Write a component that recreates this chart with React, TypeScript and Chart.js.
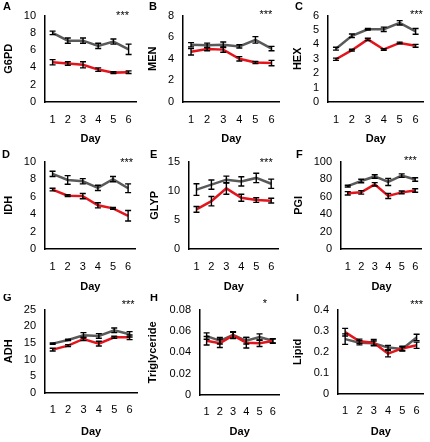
import React, { useEffect, useRef } from "react";
import { Chart, registerables } from "chart.js";

Chart.register(...registerables);

const days = ["1", "2", "3", "4", "5", "6"];

// A  G6PD
const g6pdGrey = [8.0, 7.1, 7.1, 6.5, 7.0, 6.1];
const g6pdGreyErr = [0.2, 0.3, 0.3, 0.3, 0.3, 0.6];
const g6pdRed = [4.6, 4.45, 4.3, 3.75, 3.4, 3.45];
const g6pdRedErr = [0.3, 0.2, 0.35, 0.2, 0.1, 0.15];

// B  MEN
const menGrey = [5.3, 5.25, 5.3, 5.15, 5.75, 4.95];
const menGreyErr = [0.2, 0.2, 0.25, 0.15, 0.3, 0.2];
const menRed = [4.65, 4.9, 4.85, 4.0, 3.65, 3.6];
const menRedErr = [0.3, 0.15, 0.25, 0.2, 0.1, 0.25];

// C  HEX
const hexGrey = [3.7, 4.6, 5.05, 5.05, 5.5, 4.9];
const hexGreyErr = [0.1, 0.12, 0.05, 0.15, 0.15, 0.2];
const hexRed = [2.97, 3.6, 4.35, 3.65, 4.1, 3.9];
const hexRedErr = [0.08, 0.06, 0.08, 0.06, 0.06, 0.1];

// D  IDH
const idhGrey = [8.6, 7.9, 7.75, 7.0, 8.0, 6.95];
const idhGreyErr = [0.3, 0.5, 0.3, 0.3, 0.3, 0.5];
const idhRed = [6.8, 6.1, 6.05, 5.0, 4.65, 3.8];
const idhRedErr = [0.15, 0.1, 0.3, 0.3, 0.1, 0.6];

// E  GLYP
const glypGrey = [10.2, 11.05, 11.9, 11.6, 12.2, 11.2];
const glypGreyErr = [1.0, 0.8, 0.6, 0.8, 0.8, 0.8];
const glypRed = [6.8, 8.2, 10.4, 8.8, 8.4, 8.3];
const glypRedErr = [0.5, 0.8, 1.0, 0.6, 0.4, 0.4];

// F  PGI
const pgiGrey = [72, 77.8, 83, 76.7, 84, 79.6];
const pgiGreyErr = [1, 2, 2, 4, 2, 2];
const pgiRed = [63.7, 64.8, 74, 60.7, 64.8, 67];
const pgiRedErr = [2, 2, 2, 3, 1.5, 2];

// G  ADH
const adhGrey = [14.8, 15.9, 17.3, 17.1, 18.8, 17.6];
const adhGreyErr = [0.2, 0.2, 0.8, 0.7, 0.7, 0.8];
const adhRed = [13.0, 14.2, 16.2, 14.8, 16.7, 16.7];
const adhRedErr = [0.4, 0.3, 0.5, 0.7, 0.3, 0.7];

// H  Triglyceride
const trigGrey = [0.0552, 0.0508, 0.0563, 0.0508, 0.0543, 0.0508];
const trigGreyErr = [0.003, 0.003, 0.003, 0.003, 0.003, 0.002];
const trigRed = [0.0508, 0.0485, 0.0558, 0.049, 0.0485, 0.0505];
const trigRedErr = [0.004, 0.004, 0.003, 0.005, 0.003, 0.002];

// I  Lipid
const lipidGrey = [0.26, 0.243, 0.241, 0.22, 0.213, 0.268];
const lipidGreyErr = [0.025, 0.01, 0.01, 0.01, 0.01, 0.015];
const lipidRed = [0.293, 0.25, 0.243, 0.191, 0.216, 0.231];
const lipidRedErr = [0.018, 0.01, 0.015, 0.015, 0.01, 0.015];

const panelLetters = ["A", "B", "C", "D", "E", "F", "G", "H", "I"];
const panelLabels = ["G6PD", "MEN", "HEX", "IDH", "GLYP", "PGI", "ADH", "Triglyceride", "Lipid"];
const panelMax = [10, 8, 6, 10, 15, 100, 25, 0.08, 0.4];
const panelStep = [2, 2, 1, 2, 5, 20, 5, 0.02, 0.1];
const panelStars = ["***", "***", "***", "***", "***", "***", "***", "*", "***"];
const greySeries = [g6pdGrey, menGrey, hexGrey, idhGrey, glypGrey, pgiGrey, adhGrey, trigGrey, lipidGrey];
const greyErrors = [g6pdGreyErr, menGreyErr, hexGreyErr, idhGreyErr, glypGreyErr, pgiGreyErr, adhGreyErr, trigGreyErr, lipidGreyErr];
const redSeries = [g6pdRed, menRed, hexRed, idhRed, glypRed, pgiRed, adhRed, trigRed, lipidRed];
const redErrors = [g6pdRedErr, menRedErr, hexRedErr, idhRedErr, glypRedErr, pgiRedErr, adhRedErr, trigRedErr, lipidRedErr];

// Layout (absolute page coordinates): canvas rect, plot rect, letter pos, stars pos, titles
const frames = [
  { cx: 0, cy: 0, cw: 143, ch: 146, l: 45, t: 13, r: 139, b: 102, lx: 3, ly: 7, sx: 4.6, sy: 13, yt: 9, xt: 138.5, tp: 11 },
  { cx: 142, cy: 0, cw: 144, ch: 146, l: 183, t: 13, r: 281, b: 102, lx: 149, ly: 7, sx: 4.65, sy: 12, yt: 153, xt: 138.5, tp: 11 },
  { cx: 286, cy: 0, cw: 144, ch: 146, l: 328, t: 13, r: 426, b: 102, lx: 295, ly: 7, sx: 5.05, sy: 12, yt: 298, xt: 138.5, tp: 11 },
  { cx: 0, cy: 146, cw: 143, ch: 148, l: 45, t: 158, r: 139, b: 249, lx: 2, ly: 154.5, sx: 4.9, sy: 160, yt: 9, xt: 287, tp: 11.5 },
  { cx: 142, cy: 146, cw: 144, ch: 148, l: 189, t: 159, r: 283, b: 249, lx: 150, ly: 154.5, sx: 4.67, sy: 160, yt: 155, xt: 287, tp: 11.5 },
  { cx: 286, cy: 146, cw: 144, ch: 148, l: 341, t: 159, r: 427, b: 249, lx: 296, ly: 154.5, sx: 4.65, sy: 158, yt: 299, xt: 287, tp: 11.5 },
  { cx: 0, cy: 294, cw: 143, ch: 148, l: 45, t: 303, r: 139, b: 393, lx: 3, ly: 297.5, sx: 4.9, sy: 302, yt: 9, xt: 432, tp: 10 },
  { cx: 142, cy: 294, cw: 144, ch: 148, l: 200, t: 304, r: 284, b: 395, lx: 150, ly: 297.5, sx: 4.4, sy: 301, yt: 153, xt: 432, tp: 10 },
  { cx: 286, cy: 294, cw: 144, ch: 148, l: 338, t: 303, r: 426, b: 394, lx: 296, ly: 297.5, sx: 5.0, sy: 302, yt: 298, xt: 432, tp: 10 },
];

const FONT = "'Liberation Sans', Arial, Helvetica, sans-serif";
const GREY = "#5a5a5a";
const RED = "#e3141b";
const INK = "#000000";

const decorPlugin = {
  id: "decor",
  afterDatasetsDraw(chart: any) {
    const ctx = chart.ctx;
    const xs = chart.scales.x;
    const ys = chart.scales.y;
    ctx.save();
    ctx.strokeStyle = INK;
    ctx.lineWidth = 1.4;
    chart.data.datasets.forEach((ds: any) => {
      const errs: number[] = ds.errorBars || [];
      ds.data.forEach((v: number, i: number) => {
        const e = errs[i] || 0;
        const px = xs.getPixelForValue(i);
        const top = ys.getPixelForValue(v + e);
        const bot = ys.getPixelForValue(v - e);
        ctx.beginPath();
        ctx.moveTo(px, top);
        ctx.lineTo(px, bot);
        ctx.moveTo(px - 3, top);
        ctx.lineTo(px + 3, top);
        ctx.moveTo(px - 3, bot);
        ctx.lineTo(px + 3, bot);
        ctx.stroke();
      });
    });
    ctx.restore();
  },
  afterDraw(chart: any, _args: any, opts: any) {
    const ctx = chart.ctx;
    ctx.save();
    ctx.fillStyle = INK;
    ctx.font = `bold 11px ${FONT}`;
    ctx.textAlign = "left";
    ctx.textBaseline = "middle";
    ctx.fillText(opts.letter, opts.letterX, opts.letterY);
    const xs = chart.scales.x;
    ctx.font = `11px ${FONT}`;
    ctx.textAlign = "center";
    ctx.fillText(opts.stars, xs.getPixelForValue(opts.starIdx), opts.starY + 3);
    ctx.restore();
  },
};

function Panel({ idx }: { idx: number }) {
  const ref = useRef<HTMLCanvasElement | null>(null);
  const f = frames[idx];
  useEffect(() => {
    if (!ref.current) return;
    const yTitlePad = Math.max(0, f.yt - f.cx - 6.6);
    const xTitlePad = Math.max(0, f.cy + f.ch - f.xt - 6.6);
    const chart = new Chart(ref.current, {
      type: "line",
      data: {
        labels: days,
        datasets: [
          {
            data: redSeries[idx],
            errorBars: redErrors[idx],
            borderColor: RED,
            backgroundColor: RED,
            borderWidth: 2.5,
            pointRadius: 0,
            tension: 0,
            order: 0,
          } as any,
          {
            data: greySeries[idx],
            errorBars: greyErrors[idx],
            borderColor: GREY,
            backgroundColor: GREY,
            borderWidth: 2.5,
            pointRadius: 0,
            tension: 0,
            order: 1,
          } as any,
        ],
      },
      options: {
        responsive: false,
        animation: false,
        events: [],
        layout: {
          padding: { top: f.t - f.cy, right: f.cx + f.cw - f.r, bottom: 0, left: 0 },
        },
        plugins: {
          legend: { display: false },
          tooltip: { enabled: false },
          decor: {
            letter: panelLetters[idx],
            letterX: f.lx - f.cx,
            letterY: f.ly - f.cy,
            stars: panelStars[idx],
            starIdx: f.sx,
            starY: f.sy - f.cy,
          },
        } as any,
        scales: {
          x: {
            type: "category",
            offset: true,
            grid: { display: false, drawTicks: false },
            border: { display: true, color: INK, width: 1.5 },
            ticks: {
              padding: f.tp,
              color: INK,
              autoSkip: false,
              maxRotation: 0,
              font: { family: FONT, size: 11 },
            },
            title: {
              display: true,
              text: "Day",
              color: INK,
              font: { family: FONT, size: 11, weight: "bold" },
              padding: { top: 0, bottom: xTitlePad },
            },
            afterFit: (s: any) => {
              s.height = f.cy + f.ch - f.b;
            },
          },
          y: {
            type: "linear",
            min: 0,
            max: panelMax[idx],
            grid: { display: false, drawTicks: false },
            border: { display: true, color: INK, width: 1.5 },
            ticks: {
              stepSize: panelStep[idx],
              autoSkip: false,
              padding: 9,
              color: INK,
              font: { family: FONT, size: 11 },
            },
            title: {
              display: true,
              text: panelLabels[idx],
              color: INK,
              font: { family: FONT, size: 11, weight: "bold" },
              padding: { top: yTitlePad, bottom: 0 },
            },
            afterFit: (s: any) => {
              s.width = f.l - f.cx;
            },
          },
        },
      } as any,
      plugins: [decorPlugin as any],
    });
    return () => chart.destroy();
  }, [idx]);
  return (
    <canvas
      ref={ref}
      width={f.cw}
      height={f.ch}
      style={{ position: "absolute", left: f.cx, top: f.cy, width: f.cw, height: f.ch }}
    />
  );
}

export default function App() {
  return (
    <div
      style={{
        position: "absolute",
        left: 0,
        top: 0,
        width: 430,
        height: 442,
        background: "#ffffff",
        overflow: "hidden",
      }}
    >
      {frames.map((_, i) => (
        <Panel key={i} idx={i} />
      ))}
    </div>
  );
}
